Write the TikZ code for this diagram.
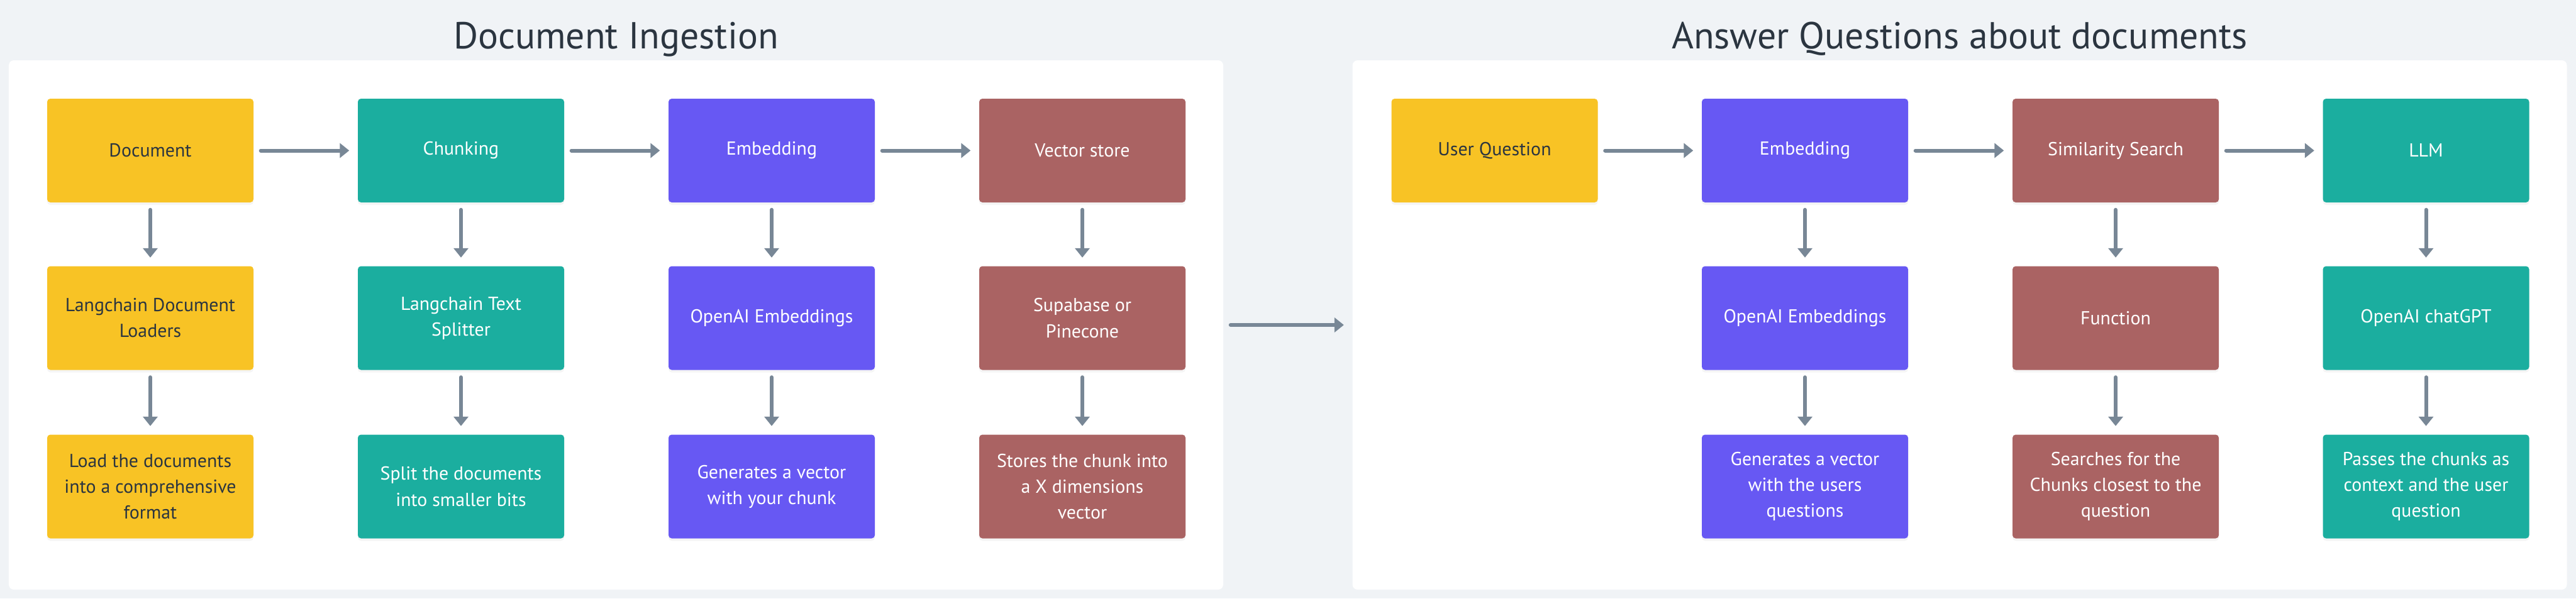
\documentclass[tikz,border=0pt]{standalone}
\usepackage{fontspec}
\setmainfont{PT Sans}
\usepackage{tikz}
\usetikzlibrary{arrows.meta,shadows}
\definecolor{bggray}{HTML}{F0F3F6}
\definecolor{darktext}{HTML}{2B3540}
\definecolor{arrowgray}{HTML}{788796}
\definecolor{docyellow}{HTML}{F8C325}
\definecolor{chunkteal}{HTML}{1BAE9F}
\definecolor{embedpurple}{HTML}{6758F3}
\definecolor{storered}{HTML}{AA6363}

\tikzset{
    box/.style={rectangle, rounded corners=0.05cm, minimum width=3.28cm, minimum height=1.65cm, inner sep=0pt, align=center,
        font=\fontsize{8.5}{11.7}\selectfont, drop shadow={opacity=0.08, shadow xshift=0cm, shadow yshift=-0.04cm}},
    yellowbox/.style={box, fill=docyellow, text=darktext},
    tealbox/.style={box, fill=chunkteal, text=white},
    purplebox/.style={box, fill=embedpurple, text=white},
    redbox/.style={box, fill=storered, text=white},
    panel/.style={rectangle, rounded corners=0.08cm, fill=white, minimum width=19.31cm, minimum height=8.42cm, inner sep=0pt},
    flow/.style={draw=arrowgray, line width=0.06cm, line cap=round, -{Triangle[length=0.15cm,width=0.23cm]}, shorten <=0.11cm, shorten >=0.13cm},
    title/.style={font=\fontsize{17}{20}\selectfont, text=darktext, anchor=base}
}

\begin{document}
\begin{tikzpicture}
                \fill[bggray] (0,0) rectangle (40.96,-9.52);
                \node[panel] (ingest) at (9.795,-5.17) {};
                \node[panel] (answer) at (31.16,-5.17) {};
                \node[title] (ingesttitle) at (9.795,-0.77) {Document Ingestion};
                \node[title] (answertitle) at (31.16,-0.77) {Answer Questions about documents};

                \node[yellowbox] (doc) at (2.39,-2.395) {Document};
                \node[tealbox] (chunk) at (7.33,-2.395) {Chunking};
                \node[purplebox] (embed) at (12.27,-2.395) {Embedding};
                \node[redbox] (store) at (17.21,-2.395) {Vector store};
                \node[yellowbox] (loader) at (2.39,-5.06) {Langchain Document\\Loaders};
                \node[tealbox] (splitter) at (7.33,-5.06) {Langchain Text\\Splitter};
                \node[purplebox] (openai) at (12.27,-5.06) {OpenAI Embeddings};
                \node[redbox] (supabase) at (17.21,-5.06) {Supabase or\\Pinecone};
                \node[yellowbox] (load) at (2.39,-7.74) {Load the documents\\into a comprehensive\\format};
                \node[tealbox] (split) at (7.33,-7.74) {Split the documents\\into smaller bits};
                \node[purplebox] (vector) at (12.27,-7.74) {Generates a vector\\with your chunk};
                \node[redbox] (dims) at (17.21,-7.74) {Stores the chunk into\\a X dimensions\\vector};

                \node[yellowbox] (question) at (23.765,-2.395) {User Question};
                \node[purplebox] (qembed) at (28.70,-2.395) {Embedding};
                \node[redbox] (search) at (33.64,-2.395) {Similarity Search};
                \node[tealbox] (llm) at (38.575,-2.395) {LLM};
                \node[purplebox] (qopenai) at (28.70,-5.06) {OpenAI Embeddings};
                \node[redbox] (function) at (33.64,-5.06) {Function};
                \node[tealbox] (chatgpt) at (38.575,-5.06) {OpenAI chatGPT};
                \node[purplebox] (qvector) at (28.70,-7.74) {Generates a vector\\with the users\\questions};
                \node[redbox] (closest) at (33.64,-7.74) {Searches for the\\Chunks closest to the\\question};
                \node[tealbox] (context) at (38.575,-7.74) {Passes the chunks as\\context and the user\\question};

                \draw[flow] (doc) -- (chunk);
                \draw[flow] (chunk) -- (embed);
                \draw[flow] (embed) -- (store);
                \draw[flow] (doc) -- (loader);
                \draw[flow] (loader) -- (load);
                \draw[flow] (chunk) -- (splitter);
                \draw[flow] (splitter) -- (split);
                \draw[flow] (embed) -- (openai);
                \draw[flow] (openai) -- (vector);
                \draw[flow] (store) -- (supabase);
                \draw[flow] (supabase) -- (dims);

                \draw[flow] (ingest) -- (answer);

                \draw[flow] (question) -- (qembed);
                \draw[flow] (qembed) -- (search);
                \draw[flow] (search) -- (llm);
                \draw[flow] (qembed) -- (qopenai);
                \draw[flow] (qopenai) -- (qvector);
                \draw[flow] (search) -- (function);
                \draw[flow] (function) -- (closest);
                \draw[flow] (llm) -- (chatgpt);
                \draw[flow] (chatgpt) -- (context);
            \end{tikzpicture}
\end{document}
